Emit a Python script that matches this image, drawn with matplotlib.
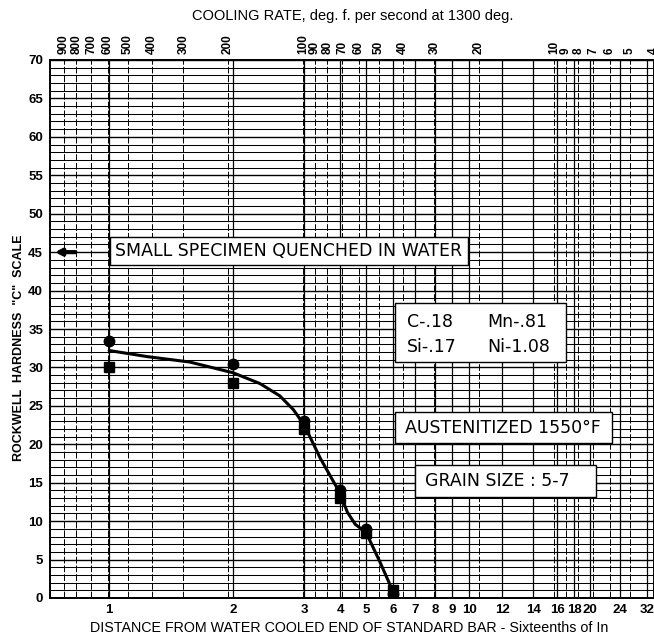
import numpy as np
import matplotlib
matplotlib.use("Agg")
import matplotlib.pyplot as plt
from matplotlib.patches import Rectangle
from matplotlib.ticker import MultipleLocator, NullLocator, FixedLocator, FixedFormatter

# ---------------- data ----------------
jominy_ticks = [1, 2, 3, 4, 5, 6, 7, 8, 9, 10, 12, 14, 16, 18, 20, 24, 32]
# cooling rate (deg F / s at 1300 F) that the chart places at each Jominy distance
jominy_cooling_rate = [593, 190, 99, 71.2, 56.1, 43.8, 35.8, 29.8, 25.5, 21.8,
                       16.1, 12.1, 9.73, 8.32, 7.19, 5.46, 4.26]
cooling_rate_ticks = [900, 800, 700, 600, 500, 400, 300, 200, 100, 90, 80, 70,
                      60, 50, 40, 30, 20, 10, 9, 8, 7, 6, 5, 4]
cooling_rate_limits = [1020, 4.0]

hrc_ticks = list(range(0, 71, 5))

circle_J = [1, 2, 3, 4, 5, 6]
circle_hrc = [33.5, 30.5, 23, 14, 9, 0.5]
square_J = [1, 2, 3, 4, 5, 6]
square_hrc = [30, 28, 22, 13, 8.5, 1]

curve_J = [1, 1.24, 1.57, 2, 2.33, 2.61, 2.82, 3, 3.41, 4, 4.25, 4.55, 5, 5.5, 6]
curve_hrc = [32.2, 31.4, 30.7, 29.3, 27.9, 26.3, 24.5, 22.5, 18.2, 13.6, 11.2, 9.6, 8.5, 4.6, 0.8]

water_quench_hrc = 45

# ---------------- scale ----------------
logJ = np.log10(jominy_ticks)
u_tab = -np.log10(jominy_cooling_rate)


def _interp_ext(x, xp, fp):
    x = np.asarray(x, float)
    xp = np.asarray(xp, float)
    fp = np.asarray(fp, float)
    y = np.interp(x, xp, fp)
    s0 = (fp[1] - fp[0]) / (xp[1] - xp[0])
    s1 = (fp[-1] - fp[-2]) / (xp[-1] - xp[-2])
    y = np.where(x < xp[0], fp[0] + s0 * (x - xp[0]), y)
    y = np.where(x > xp[-1], fp[-1] + s1 * (x - xp[-1]), y)
    return y


def j_forward(j):
    j = np.clip(np.asarray(j, float), 1e-6, None)
    return _interp_ext(np.log10(j), logJ, u_tab)


def j_inverse(v):
    return 10 ** _interp_ext(v, u_tab, logJ)


# ---------------- figure ----------------
fig = plt.figure(figsize=(6.54, 6.40), dpi=100)
fig.patch.set_facecolor("white")
ax = fig.add_axes([50 / 654, 1 - 598 / 640, 604 / 654, 538 / 640])
ax.set_xscale("function", functions=(j_forward, j_inverse))
jl = float(j_inverse(-np.log10(cooling_rate_limits[0])))
jr = float(j_inverse(-np.log10(cooling_rate_limits[1])))
ax.set_xlim(jl, jr)
ax.set_ylim(0, 70)

ax_top = ax.twiny()
ax_top.set_xscale("log")
ax_top.set_xlim(*cooling_rate_limits)
ax_top.xaxis.set_major_locator(FixedLocator(cooling_rate_ticks))
ax_top.xaxis.set_major_formatter(FixedFormatter([str(v) for v in cooling_rate_ticks]))
ax_top.xaxis.set_minor_locator(NullLocator())
ax_top.grid(True, axis="x", which="major", color="black", lw=0.7, linestyle=(0, (7, 2)))
ax_top.tick_params(axis="x", length=0, pad=4, labelsize=8.5, labelrotation=90)
for lab in ax_top.get_xticklabels():
    lab.set_fontfamily("Liberation Sans")
    lab.set_fontweight("bold")

# ax drawn above ax_top
ax_top.set_zorder(1)
ax.set_zorder(2)
ax.patch.set_visible(False)
ax_top.patch.set_visible(True)
ax_top.patch.set_facecolor("white")

# bottom ticks and grid
ax.xaxis.set_major_locator(FixedLocator(jominy_ticks))
ax.xaxis.set_major_formatter(FixedFormatter([str(v) for v in jominy_ticks]))
ax.xaxis.set_minor_locator(NullLocator())
ax.set_yticks(hrc_ticks)
ax.yaxis.set_minor_locator(MultipleLocator(1))
ax.grid(True, axis="x", which="major", color="black", lw=0.9, zorder=0)
ax.grid(True, axis="y", which="minor", color="black", lw=0.75, zorder=0)
ax.grid(True, axis="y", which="major", color="black", lw=1.0, zorder=0)
ax.tick_params(axis="both", which="both", length=0)
ax.tick_params(axis="x", pad=4, labelsize=9.5)
ax.tick_params(axis="y", pad=5, labelsize=9.5)
for lab in ax.get_xticklabels() + ax.get_yticklabels():
    lab.set_fontfamily("Liberation Sans")
    lab.set_fontweight("bold")
for sp in list(ax.spines.values()) + list(ax_top.spines.values()):
    sp.set_linewidth(1.3)

# data
ax.plot(curve_J, curve_hrc, color="black", lw=2.2, zorder=5, solid_capstyle="round")
ax.plot(circle_J, circle_hrc, "o", color="black", ms=7.5, zorder=6)
ax.plot(square_J, square_hrc, "s", color="black", ms=6.5, zorder=6)

# arrow at water-quench hardness
ax.annotate("", xy=(0.008, water_quench_hrc), xytext=(0.042, water_quench_hrc),
            xycoords=("axes fraction", "data"), textcoords=("axes fraction", "data"),
            arrowprops=dict(arrowstyle="-|>,head_length=0.35,head_width=0.18",
                            lw=3, color="black", shrinkA=0, shrinkB=0), zorder=7)

# boxes
def box(x0, y0, x1, y1):
    ax.add_patch(Rectangle((x0, y0), x1 - x0, y1 - y0, transform=ax.transAxes,
                           facecolor="white", edgecolor="black", lw=1.0, zorder=8))

tfont = dict(family="DejaVu Sans", fontsize=12.5, zorder=9, va="center", ha="left",
             transform=ax.transAxes)

box(0.0993, 0.619, 0.692, 0.671)
ax.text(0.1076, 0.645, "SMALL SPECIMEN QUENCHED IN WATER", **tfont)

box(0.571, 0.4387, 0.854, 0.548)
ax.text(0.591, 0.513, "C-.18", **tfont)
ax.text(0.7235, 0.513, "Mn-.81", **tfont)
ax.text(0.591, 0.4665, "Si-.17", **tfont)
ax.text(0.7235, 0.4665, "Ni-1.08", **tfont)

box(0.5712, 0.2881, 0.9305, 0.3457)
ax.text(0.5877, 0.3169, "AUSTENITIZED 1550°F", **tfont)

box(0.6043, 0.1877, 0.904, 0.2472)
ax.text(0.6209, 0.2175, "GRAIN SIZE : 5-7", **tfont)

# labels
fig.text(353 / 654, 1 - 16 / 640, "COOLING RATE, deg. f. per second at 1300 deg.",
         ha="center", va="center", fontsize=10.5, family="Liberation Sans")
fig.text(349 / 654, 1 - 628 / 640,
         "DISTANCE FROM WATER COOLED END OF STANDARD BAR - Sixteenths of In",
         ha="center", va="center", fontsize=10.3, family="Liberation Sans")
fig.text(19 / 654, 1 - 348 / 640, 'ROCKWELL  HARDNESS  "C"  SCALE',
         ha="center", va="center", rotation=90, fontsize=9, family="Liberation Sans",
         fontweight="bold")

fig.savefig("out.png", dpi=100, facecolor="white")
